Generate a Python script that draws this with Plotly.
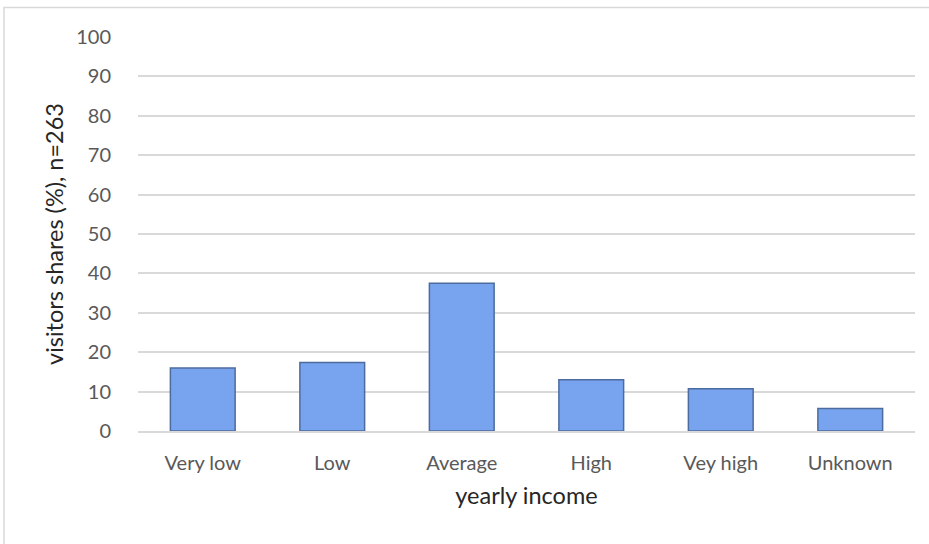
import plotly.graph_objects as go

categories = ["Very low", "Low", "Average", "High", "Vey high", "Unknown"]
shares = [16.0, 17.4, 37.5, 13.0, 10.7, 5.7]
y_ticks = [0, 10, 20, 30, 40, 50, 60, 70, 80, 90, 100]

fig = go.Figure()
fig.add_trace(go.Bar(
    x=categories, y=shares,
    marker=dict(color="#78a3ef", line=dict(color="#4d6c9e", width=1.5)),
    showlegend=False,
))

L, R, T, B = 138, 14, 37, 113
W, H = 929, 544
pw, ph = W - L - R, H - T - B

fig.update_layout(
    width=W, height=H,
    margin=dict(l=L, r=R, t=T, b=B),
    paper_bgcolor="white", plot_bgcolor="white",
    bargap=0.5,
    font=dict(family="Lato, Carlito, Calibri, sans-serif", color="#595959"),
    xaxis=dict(
        title=dict(text="yearly income", font=dict(size=23.5, color="#262626"), standoff=15),
        tickfont=dict(size=20, color="#595959"),
        showline=True, linecolor="#d9d9d9", linewidth=1.5,
        ticks="outside", ticklen=13, tickcolor="rgba(0,0,0,0)", showgrid=False,
    ),
    yaxis=dict(
        title=dict(text="visitors shares (%), n=263", font=dict(size=23.5, color="#262626"), standoff=5),
        tickfont=dict(size=20, color="#595959"),
        range=[0, 100], tickvals=y_ticks,
        showgrid=True, gridcolor="#d9d9d9", gridwidth=1.5,
        zeroline=False, ticks="outside", ticklen=22, tickcolor="rgba(0,0,0,0)",
    ),
    shapes=[dict(
        type="rect", xref="paper", yref="paper",
        x0=(4 - L) / pw, x1=(W + 20 - L) / pw,
        y0=-(B + 20) / ph, y1=(H - B - 7.5) / ph,
        line=dict(color="#d9d9d9", width=1.5), fillcolor="rgba(0,0,0,0)",
        layer="below",
    )],
)

fig.write_html("out.html", config={"displayModeBar": False},
               post_script="document.body.style.margin='0';")
